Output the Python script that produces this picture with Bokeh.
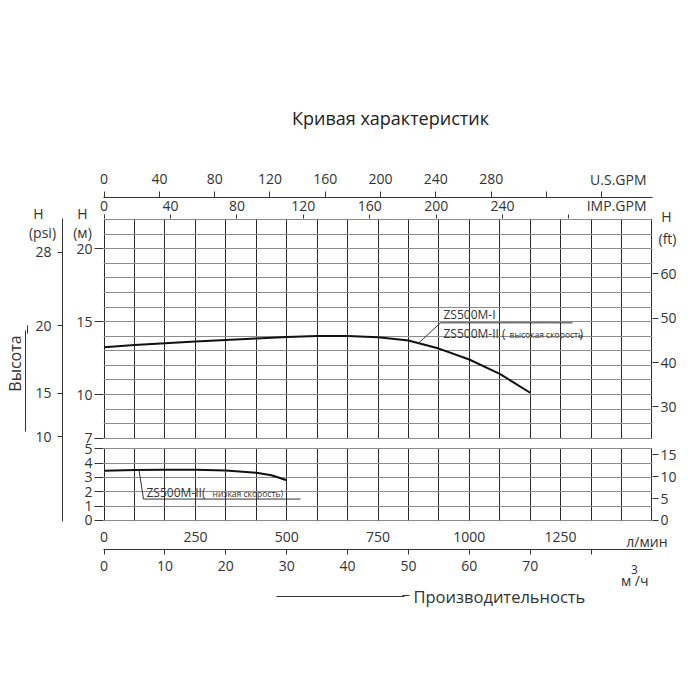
import numpy as np
from bokeh.plotting import figure
from bokeh.models import (Range1d, LinearAxis, FixedTicker, Grid, Label, Arrow,
                          NormalHead, BoxAnnotation)
from bokeh.embed import file_html
from bokeh.resources import INLINE

# ---------------- data ----------------
flow_high_m3h = [0, 5, 10, 15, 20, 25, 30, 35, 40, 45, 50, 55, 60, 65, 70]
head_high_m = [13.24, 13.39, 13.51, 13.63, 13.74, 13.84, 13.95, 14.01, 14.02, 13.93,
               13.70, 13.15, 12.40, 11.42, 10.12]
flow_low_m3h = [0, 5, 10, 15, 20, 25, 27.5, 30]
head_low_m = [3.47, 3.51, 3.54, 3.53, 3.48, 3.33, 3.15, 2.80]

lpm_ticks = [0, 250, 500, 750, 1000, 1250]
m3h_ticks = [0, 10, 20, 30, 40, 50, 60, 70, 80]
m3h_labels = ["0", "10", "20", "30", "40", "50", "60", "70", ""]
usgpm_ticks = [0, 40, 80, 120, 160, 200, 240, 280, 320, 360]
usgpm_labels = ["0", "40", "80", "120", "160", "200", "240", "280", "", ""]
impgpm_ticks = [0, 40, 80, 120, 160, 200, 240, 280]
impgpm_labels = ["0", "40", "80", "120", "160", "200", "240", ""]
h_up_ticks = [7, 10, 15, 20]
h_low_ticks = [0, 1, 2, 3, 4, 5]
ft_up_ticks = [30, 40, 50, 60]
ft_low_ticks = [0, 5, 10, 15]
psi_labels = ["28", "20", "15", "10"]
psi_at_m = [19.77, 14.72, 10.10, 7.10]   # where the psi labels sit on the metre scale

# ---------------- layout ----------------
W, H = 700, 700
MB_L, MB_T = 103, 218
FRAME_W, FRAME_H = 549, 304
MB_R = W - MB_L - FRAME_W
MB_B = H - MB_T - FRAME_H
FL, FT = MB_L, MB_T
FB = FT + FRAME_H
UP_PXM, LOW_PXM = 14.63, 14.4
X0, X1 = -0.1, 90.1
PXX = FRAME_W / (X1 - X0)
YU1 = 22.07
YU0 = YU1 - FRAME_H / UP_PXM
YL0 = -0.07
YL1 = YL0 + FRAME_H / LOW_PXM
LPM = 1000.0 / 60.0


def X(px):
    return X0 + (px - FL) / PXX


def Y(py):
    return YU1 - (py - FT) / UP_PXM


def YL(py):
    return YL0 + (FB - py) / LOW_PXM


def low_to_up(h):
    return Y(FB - (h - YL0) * LOW_PXM)


FONT = "Open Sans"
TXT = "#333333"

p = figure(width=W, height=H, x_range=Range1d(X0, X1), y_range=Range1d(YU0, YU1),
           output_backend="svg", toolbar_location=None,
           x_axis_location=None, y_axis_location=None,
           min_border_left=MB_L, min_border_right=MB_R,
           min_border_top=MB_T, min_border_bottom=MB_B,
           outline_line_color=None, background_fill_color="white",
           border_fill_color="white")
p.xgrid.grid_line_color = None
p.ygrid.grid_line_color = None
p.title.text = ""

p.extra_x_ranges = {
    "lpm": Range1d(X0 * LPM, X1 * LPM),
    "imp": Range1d(X0 * LPM / 4.54609, X1 * LPM / 4.54609),
    "usg": Range1d(X0 * LPM / 3.785411784, X1 * LPM / 3.785411784),
}
p.extra_y_ranges = {
    "low": Range1d(YL0, YL1),
    "ft": Range1d(YU0 / 0.3048, YU1 / 0.3048),
}

# grids
p.add_layout(Grid(dimension=0, ticker=FixedTicker(ticks=list(range(0, 91, 5))),
                  grid_line_color="#2a2a2a", grid_line_width=1), "center")
p.add_layout(Grid(dimension=1, ticker=FixedTicker(ticks=list(range(7, 23))),
                  grid_line_color="#8c8c8c", grid_line_width=1), "center")
p.add_layout(Grid(dimension=1, y_range_name="low", ticker=FixedTicker(ticks=h_low_ticks),
                  grid_line_color="#8c8c8c", grid_line_width=1), "center")
# blank strip between the two panels
p.add_layout(BoxAnnotation(top=7 - 0.8 / UP_PXM, bottom=low_to_up(5) + 0.8 / UP_PXM,
                           fill_color="white", fill_alpha=1.0, line_color=None,
                           level="underlay"))


def style(ax, size="14px"):
    ax.major_label_text_font = FONT
    ax.major_label_text_font_size = size
    ax.major_label_text_color = TXT
    ax.major_tick_line_color = TXT
    ax.minor_tick_line_color = None
    ax.major_tick_in = 0
    ax.axis_line_color = TXT


def pad(ax, size_px, standoff=1):
    # invisible axis label that only reserves space
    ax.axis_label = "|"
    ax.axis_label_text_alpha = 0
    ax.axis_label_text_font_size = f"{size_px}px"
    ax.axis_label_standoff = standoff


# left: metres (inner) and psi (outer)
m_pos = list(h_up_ticks) + [low_to_up(h) for h in h_low_ticks]
m_lab = {float(t): str(t) for t in h_up_ticks}
m_lab.update({low_to_up(h): str(h) for h in h_low_ticks})
ax_m = LinearAxis(ticker=FixedTicker(ticks=m_pos), major_label_overrides=m_lab)
style(ax_m)
ax_m.axis_line_color = None
ax_m.major_tick_out = 9
ax_m.major_label_standoff = 2
pad(ax_m, 7)
p.add_layout(ax_m, "left")

ax_psi = LinearAxis(ticker=FixedTicker(ticks=psi_at_m),
                    major_label_overrides=dict(zip(psi_at_m, psi_labels)))
style(ax_psi)
ax_psi.major_tick_out = 5
ax_psi.major_label_standoff = 6
pad(ax_psi, 3)
p.add_layout(ax_psi, "left")

# shaft of the "Высота" arrow (an axis line limited by bounds)
ax_vs = LinearAxis(ticker=FixedTicker(ticks=[]), bounds=(Y(432), Y(330)))
style(ax_vs)
ax_vs.major_tick_out = 0
ax_vs.major_label_standoff = 0
p.add_layout(ax_vs, "left")

# right: feet
ft_pos = list(ft_up_ticks) + [low_to_up(f * 0.3048) / 0.3048 for f in ft_low_ticks]
ft_lab = {float(t): str(t) for t in ft_up_ticks}
ft_lab.update({low_to_up(f * 0.3048) / 0.3048: str(f) for f in ft_low_ticks})
ax_ft = LinearAxis(y_range_name="ft", ticker=FixedTicker(ticks=ft_pos),
                   major_label_overrides=ft_lab)
style(ax_ft)
ax_ft.axis_line_color = None
ax_ft.major_tick_out = 6
ax_ft.major_label_standoff = 2
p.add_layout(ax_ft, "right")

# top: IMP GPM (inner) and US GPM (outer)
ax_imp = LinearAxis(x_range_name="imp", ticker=FixedTicker(ticks=impgpm_ticks),
                    major_label_overrides=dict(zip(impgpm_ticks, impgpm_labels)))
style(ax_imp)
ax_imp.axis_line_color = None
ax_imp.major_tick_out = 4
ax_imp.major_label_standoff = 4
p.add_layout(ax_imp, "above")

ax_us = LinearAxis(x_range_name="usg", ticker=FixedTicker(ticks=usgpm_ticks),
                   major_label_overrides=dict(zip(usgpm_ticks, usgpm_labels)))
style(ax_us)
ax_us.major_tick_out = 6
ax_us.major_label_standoff = 8
p.add_layout(ax_us, "above")

# bottom: l/min (inner) and m3/h (outer)
ax_lpm = LinearAxis(x_range_name="lpm", ticker=FixedTicker(ticks=lpm_ticks))
style(ax_lpm)
ax_lpm.axis_line_color = None
ax_lpm.major_tick_out = 0
ax_lpm.major_label_standoff = 10
pad(ax_lpm, 2, 0)
p.add_layout(ax_lpm, "below")

ax_m3h = LinearAxis(ticker=FixedTicker(ticks=m3h_ticks),
                    major_label_overrides=dict(zip(m3h_ticks, m3h_labels)))
style(ax_m3h)
ax_m3h.major_tick_out = 5
ax_m3h.major_label_standoff = 6
pad(ax_m3h, 8, 11)
p.add_layout(ax_m3h, "below")

# shaft of the "Производительность" arrow
ax_hs = LinearAxis(ticker=FixedTicker(ticks=[]), bounds=(X(276), X(404)))
style(ax_hs)
ax_hs.major_tick_out = 0
ax_hs.major_label_standoff = 0
p.add_layout(ax_hs, "below")

# curves
p.line(flow_high_m3h, head_high_m, line_color="#111111", line_width=2)
p.line(flow_low_m3h, head_low_m, line_color="#111111", line_width=2, y_range_name="low")

# curve callouts
qa = X(418)
p.line([X(440), qa], [Y(322.7), float(np.interp(qa, flow_high_m3h, head_high_m))],
       line_color=TXT, line_width=1)
p.line([X(440), X(572)], [Y(322.7), Y(322.7)], line_color=TXT, line_width=1)
qb = X(138.5)
p.line([qb, X(143), X(300)], [float(np.interp(qb, flow_low_m3h, head_low_m)), YL(499.5), YL(499.5)],
       line_color=TXT, line_width=1, y_range_name="low")


def lab(text, px, py, size="12px", align="left", rng=None):
    kw = dict(x=X(px), y=(Y(py) if rng is None else YL(py)), text=text,
              text_font=FONT, text_font_size=size, text_color=TXT,
              text_align=align, text_baseline="middle")
    if rng is not None:
        kw["y_range_name"] = rng
    p.add_layout(Label(**kw))


lab("ZS500M-I", 443, 314.6)
lab("ZS500M-II (", 443, 333)
lab("высокая скорость", 509, 334.4, size="8.5px")
lab(")", 579, 333)
lab("ZS500M-II(", 146, 492.6, rng="low")
lab("низкая скорость)", 212, 494, size="8.5px", rng="low")


def clab(text, px, py, side, size="14px", align="left", angle=0.0, color=TXT):
    # text outside the frame: canvas pixel position, kept in a side panel
    p.add_layout(Label(x=px, y=py, x_units="canvas", y_units="canvas",
                       text=text, text_font=FONT, text_font_size=size, text_color=color,
                       text_align=align, text_baseline="middle", angle=angle), side)


clab("U.S.GPM", 646, 179, "above", align="right")
clab("IMP.GPM", 646, 205, "above", align="right")
clab("(psi)", 42, 232, "above", align="center")
clab("(м)", 82, 232, "above", align="center")
clab("Высота", 14, 363, "above", size="16px", align="center", angle=np.pi / 2)
clab("H", 38, 213, "left", align="center")
clab("H", 82, 213, "left", align="center")
clab("H", 666, 216, "right", align="center")
clab("3", 634, 569, "right", size="12px", align="center")
clab("Кривая характеристик", 390, 117, "below", size="18px", align="center", color="#222222")
clab("л/мин", 667, 541, "below", align="right")
clab("м /ч", 648, 580, "below", align="right")
clab("Производительность", 413, 596, "below", size="16.5px")
clab("(ft)", 667, 238, "below", align="center")


def sarrow(x0, y0, x1, y1, head):
    p.add_layout(Arrow(end=head, x_start=x0 - FL, y_start=FB - y0, x_end=x1 - FL, y_end=FB - y1,
                       start_units="screen", end_units="screen",
                       line_color=TXT, line_width=1))


sarrow(27, 345, 27, 326, NormalHead(size=8, fill_color=TXT, line_color=TXT))
sarrow(390, 596, 409, 596, NormalHead(size=7, fill_color=TXT, line_color=TXT))

open("out.html", "w").write(file_html(p, INLINE))
